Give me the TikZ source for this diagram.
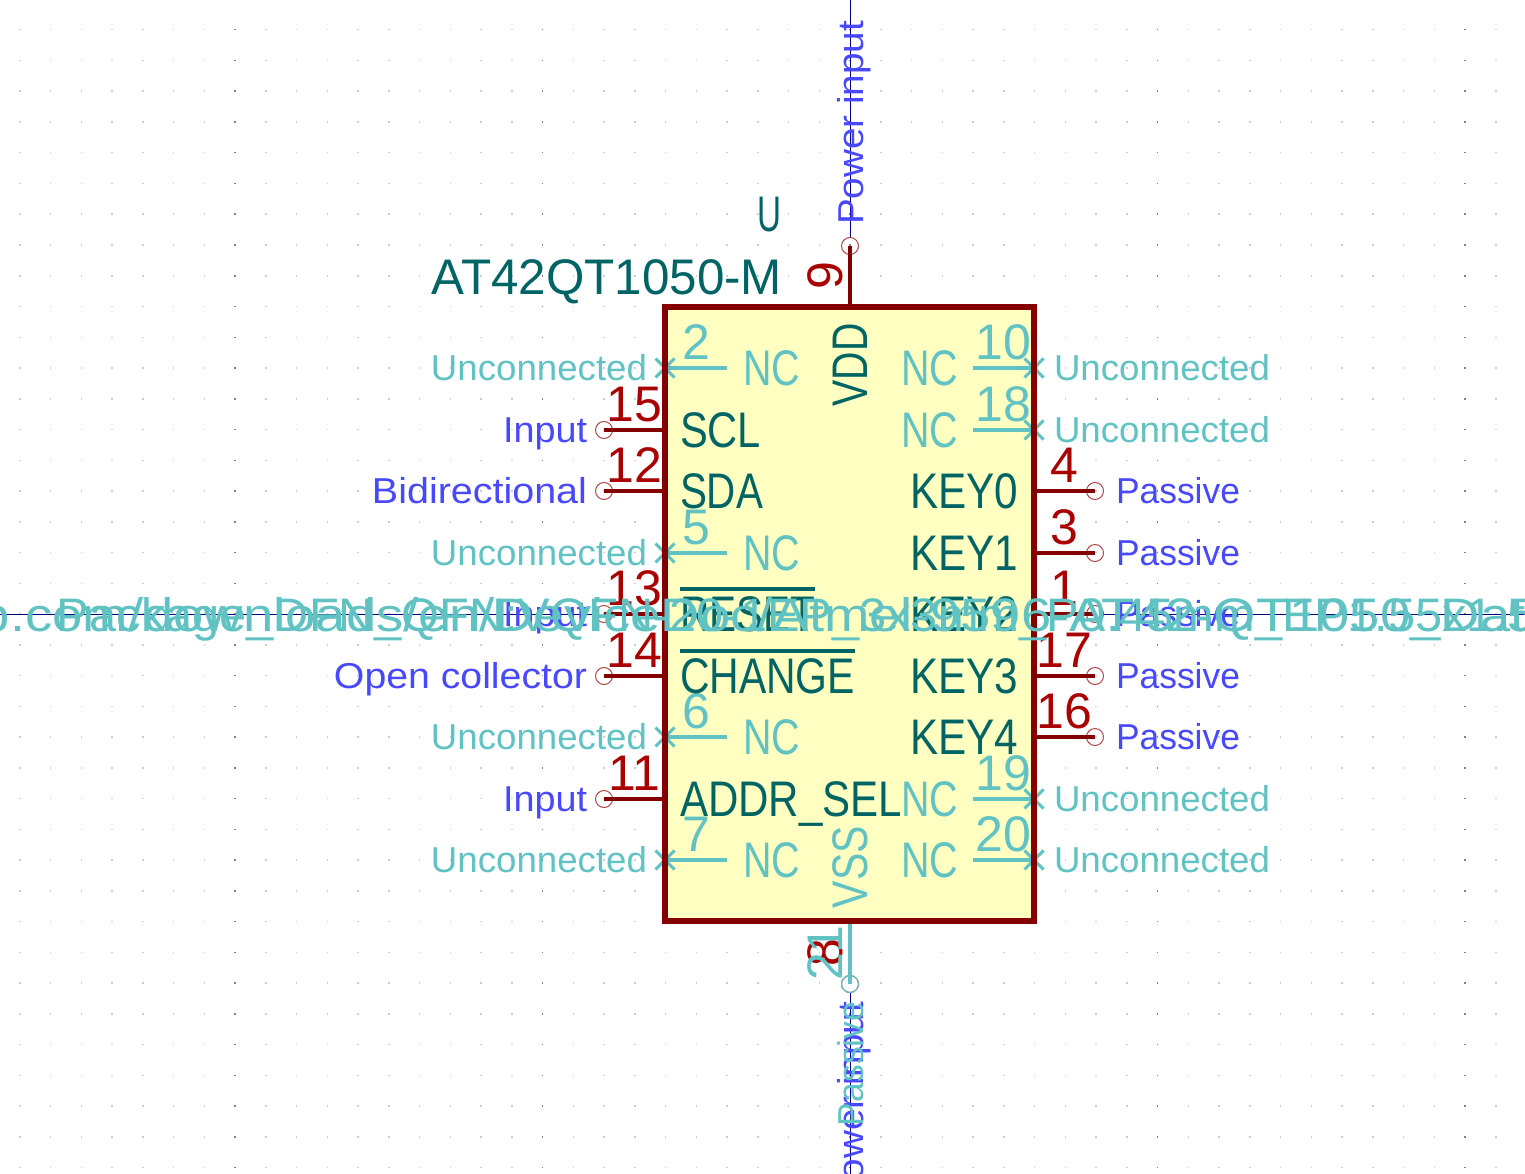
\documentclass[tikz,border=0pt]{standalone}
\usepackage{fontspec}
\usepackage{graphicx}
\setmainfont{Liberation Sans}
\usetikzlibrary{positioning,shapes.misc}
\definecolor{bodyclr}{RGB}{132,0,0}
\definecolor{bodyfill}{RGB}{255,255,194}
\definecolor{numclr}{RGB}{169,0,0}
\definecolor{nameclr}{RGB}{0,100,100}
\definecolor{ncclr}{RGB}{96,194,194}
\definecolor{typeclr}{RGB}{72,72,255}
\definecolor{endclr}{RGB}{176,70,70}
\definecolor{hairclr}{RGB}{0,0,132}
\definecolor{dotclr}{RGB}{205,205,205}
\definecolor{dotdark}{RGB}{130,130,130}
\newcommand{\fitw}[2]{\resizebox{#1pt}{\height}{#2}}
\tikzset{
  %% component body
  bodybox/.style={rectangle,fill=bodyfill,minimum width=369,minimum height=614,
    inner sep=0pt,outer sep=0pt},
  bodyln/.style={draw=bodyclr,line width=6pt,line join=miter},
  %% pin ends
  pend/.style={circle,draw=endclr,line width=1pt,minimum size=17,inner sep=0pt,outer sep=0pt},
  tend/.style={circle,draw=ncclr,line width=1pt,minimum size=17,inner sep=0pt,outer sep=0pt},
  ncx/.style={cross out,draw=ncclr,line width=3pt,minimum size=19,inner sep=0pt,outer sep=0pt},
  %% pin lines
  pinln/.style={color=bodyclr,line width=4pt},
  ncln/.style={color=ncclr,line width=4pt},
  hair/.style={color=hairclr,line width=1pt},
  ovbar/.style={color=nameclr,line width=4pt},
  %% texts
  num/.style={font=\fontsize{50}{50}\selectfont,text=numclr,inner sep=0pt,outer sep=0pt,
    text height=36pt,text depth=0pt},
  ncnum/.style={num,text=ncclr},
  nm/.style={font=\fontsize{50}{50}\selectfont,text=nameclr,inner sep=0pt,outer sep=0pt,
    text height=36pt,text depth=0pt,yshift=1pt},
  ncnm/.style={nm,text=ncclr},
  lbl/.style={font=\fontsize{36}{36}\selectfont,text=typeclr,inner sep=0pt,outer sep=0pt,
    text height=26pt,text depth=0pt,yshift=1pt},
  nclbl/.style={lbl,text=ncclr},
  fld/.style={font=\fontsize{47}{47}\selectfont,text=ncclr,inner sep=0pt,outer sep=0pt,
    text height=34pt,text depth=0pt},
}
\begin{document}
\begin{tikzpicture}[x=1pt,y=-1pt]
  \useasboundingbox (0,0) rectangle (1525,1174);
  \clip (0,0) rectangle (1525,1174);
  \fill[white] (0,0) rectangle (1525,1174);
  %% grid
  \foreach \i in {-27,...,21}{
    \foreach \j in {-19,...,18}{
      \fill[dotclr] ({849.25+\i*30.75},{613.25+\j*30.75}) rectangle ++(1.5,1.5);
    }
  }
  \foreach \i in {-2,...,2}{
    \foreach \j in {-19,...,18}{
      \fill[dotdark] ({849.25+\i*307.5},{613.25+\j*30.75}) rectangle ++(1.5,1.5);
    }
  }

  \node[bodybox] (body) at (849.5,614) {};

  %% pin ends
  \node[pend] (p9)  at (850,246) {};
  \node[pend] (p8)  at (850,984) {};
  \node[tend] (p21) at (850,984) {};
  \node[pend] (p15) at (604,430) {};
  \node[pend] (p12) at (604,491) {};
  \node[pend] (p13) at (604,614) {};
  \node[pend] (p14) at (604,676) {};
  \node[pend] (p11) at (604,799) {};
  \node[pend] (p4)  at (1095,491) {};
  \node[pend] (p3)  at (1095,553) {};
  \node[pend] (p1)  at (1095,614) {};
  \node[pend] (p17) at (1095,676) {};
  \node[pend] (p16) at (1095,737) {};
  \node[ncx] (x2)  at (665,368) {};
  \node[ncx] (x5)  at (665,553) {};
  \node[ncx] (x6)  at (665,737) {};
  \node[ncx] (x7)  at (665,860) {};
  \node[ncx] (x10) at (1034,368) {};
  \node[ncx] (x18) at (1034,430) {};
  \node[ncx] (x19) at (1034,799) {};
  \node[ncx] (x20) at (1034,860) {};
  \coordinate (e2)  at (727,368);
  \coordinate (e5)  at (727,553);
  \coordinate (e6)  at (727,737);
  \coordinate (e7)  at (727,860);
  \coordinate (e10) at (973,368);
  \coordinate (e18) at (973,430);
  \coordinate (e19) at (973,799);
  \coordinate (e20) at (973,860);
  \coordinate (wl) at (0,614);
  \coordinate (wr) at (1525,614);
  \coordinate (wt) at (850,0);
  \coordinate (wb) at (850,1174);

  %% wires
  \draw[hair] (wl)--(p13);
  \draw[hair] (p1)--(wr);
  \draw[hair] (wt)--(p9);
  \draw[hair] (p21)--(wb);

  %% pins
  \draw[pinln] (p9.center)--(p9 |- body.north);
  \draw[pinln] (p8.center)--(p8 |- body.south);
  \draw[ncln]  (p21.center)--(p21 |- body.south);
  \draw[pinln] (p15.center)--(p15 -| body.west) node[midway,num,above=9pt] (n15) {15};
  \draw[pinln] (p12.center)--(p12 -| body.west) node[midway,num,above=9pt] (n12) {12};
  \draw[pinln] (p13.center)--(p13 -| body.west) node[midway,num,above=9pt] (n13) {13};
  \draw[pinln] (p14.center)--(p14 -| body.west) node[midway,num,above=9pt] (n14) {14};
  \draw[pinln] (p11.center)--(p11 -| body.west) node[midway,num,above=9pt] (n11) {11};
  \draw[pinln] (p4.center)--(p4 -| body.east)   node[midway,num,above=9pt] (n4)  {4};
  \draw[pinln] (p3.center)--(p3 -| body.east)   node[midway,num,above=9pt] (n3)  {3};
  \draw[pinln] (p1.center)--(p1 -| body.east)   node[midway,num,above=9pt] (n1)  {1};
  \draw[pinln] (p17.center)--(p17 -| body.east) node[midway,num,above=9pt] (n17) {17};
  \draw[pinln] (p16.center)--(p16 -| body.east) node[midway,num,above=9pt] (n16) {16};
  \draw[ncln] (x2.center)--(e2)   node[midway,ncnum,above=9pt] (n2)  {2};
  \draw[ncln] (x5.center)--(e5)   node[midway,ncnum,above=9pt] (n5)  {5};
  \draw[ncln] (x6.center)--(e6)   node[midway,ncnum,above=9pt] (n6)  {6};
  \draw[ncln] (x7.center)--(e7)   node[midway,ncnum,above=9pt] (n7)  {7};
  \draw[ncln] (x10.center)--(e10) node[midway,ncnum,above=9pt] (n10) {10};
  \draw[ncln] (x18.center)--(e18) node[midway,ncnum,above=9pt] (n18) {18};
  \draw[ncln] (x19.center)--(e19) node[midway,ncnum,above=9pt] (n19) {19};
  \draw[ncln] (x20.center)--(e20) node[midway,ncnum,above=9pt] (n20) {20};

  \draw[bodyln] (body.north west) rectangle (body.south east);

  %% rotated numbers
  \node[num,rotate=90] (n9) at (824,276) {9};
  \node[num,rotate=90] (n8) at (824,953) {8};
  \node[ncnum,rotate=90] (n21) at (824,953) {21};

  %% reference and value
  \node[nm] (refd) at (769,215) {\fitw{24}{U}};
  \node[nm,anchor=east] (val) at (782,277) {\fitw{350}{AT42QT1050-M}};

  %% pin names
  \node[nm,rotate=90] (vdd) at (849,366) {\fitw{83}{VDD}};
  \node[ncnm,rotate=90] (vss) at (849,868) {\fitw{82}{VSS}};
  \node[nm,right=15pt of p15 -| body.west] (s15) {\fitw{81}{SCL}};
  \node[nm,right=15pt of p12 -| body.west] (s12) {\fitw{83}{SDA}};
  \node[nm,right=15pt of p13 -| body.west] (s13) {\fitw{135}{RESET}};
  \node[nm,right=15pt of p14 -| body.west] (s14) {\fitw{175}{CHANGE}};
  \node[nm,right=15pt of p11 -| body.west] (s11) {\fitw{222}{ADDR\_SEL}};
  \node[nm,left=16pt of p4 -| body.east]   (s4)  {\fitw{108}{KEY0}};
  \node[nm,left=16pt of p3 -| body.east]   (s3)  {\fitw{108}{KEY1}};
  \node[nm,left=16pt of p1 -| body.east]   (s1)  {\fitw{108}{KEY2}};
  \node[nm,left=16pt of p17 -| body.east]  (s17) {\fitw{108}{KEY3}};
  \node[nm,left=16pt of p16 -| body.east]  (s16) {\fitw{108}{KEY4}};
  \draw[ovbar] ([yshift=6pt]s13.north west)--([yshift=6pt]s13.north east);
  \draw[ovbar] ([yshift=6pt]s14.north west)--([yshift=6pt]s14.north east);
  \node[ncnm,right=16pt of e2]  (s2)  {\fitw{57}{NC}};
  \node[ncnm,right=16pt of e5]  (s5)  {\fitw{57}{NC}};
  \node[ncnm,right=16pt of e6]  (s6)  {\fitw{57}{NC}};
  \node[ncnm,right=16pt of e7]  (s7)  {\fitw{57}{NC}};
  \node[ncnm,left=15pt of e10]  (s10) {\fitw{57}{NC}};
  \node[ncnm,left=15pt of e18]  (s18) {\fitw{57}{NC}};
  \node[ncnm,left=15pt of e19]  (s19) {\fitw{57}{NC}};
  \node[ncnm,left=15pt of e20]  (s20) {\fitw{57}{NC}};

  %% pin types
  \node[lbl,rotate=90,anchor=west] (t9) at (850,226) {\fitw{204}{Power input}};
  \node[lbl,rotate=90,anchor=east] (t8) at (850,1003) {\fitw{204}{Power input}};
  \node[nclbl,rotate=90,anchor=east] (t21) at (850,1003) {\fitw{124}{Passive}};
  \node[lbl,left=8.5pt of p15]  (t15) {\fitw{84}{Input}};
  \node[lbl,left=8.5pt of p12]  (t12) {\fitw{215}{Bidirectional}};
  \node[lbl,left=8.5pt of p13]  (t13) {\fitw{84}{Input}};
  \node[lbl,left=8.5pt of p14]  (t14) {\fitw{253}{Open collector}};
  \node[lbl,left=8.5pt of p11]  (t11) {\fitw{84}{Input}};
  \node[lbl,right=12.5pt of p4]  (t4)  {\fitw{124}{Passive}};
  \node[lbl,right=12.5pt of p3]  (t3)  {\fitw{124}{Passive}};
  \node[lbl,right=12.5pt of p1]  (t1)  {\fitw{124}{Passive}};
  \node[lbl,right=12.5pt of p17] (t17) {\fitw{124}{Passive}};
  \node[lbl,right=12.5pt of p16] (t16) {\fitw{124}{Passive}};
  \node[nclbl,left=8.5pt of x2]  (t2)  {\fitw{216}{Unconnected}};
  \node[nclbl,left=8.5pt of x5]  (t5)  {\fitw{216}{Unconnected}};
  \node[nclbl,left=8.5pt of x6]  (t6)  {\fitw{216}{Unconnected}};
  \node[nclbl,left=8.5pt of x7]  (t7)  {\fitw{216}{Unconnected}};
  \node[nclbl,right=10.5pt of x10] (t10) {\fitw{216}{Unconnected}};
  \node[nclbl,right=10.5pt of x18] (t18) {\fitw{216}{Unconnected}};
  \node[nclbl,right=10.5pt of x19] (t19) {\fitw{216}{Unconnected}};
  \node[nclbl,right=10.5pt of x20] (t20) {\fitw{216}{Unconnected}};

  %% footprint and datasheet, on top
  \node[fld] (fp) at (850,614) {\fitw{1586}{Package\_DFN\_QFN:VQFN-20-1EP\_3x3mm\_P0.45mm\_EP1.55x1.55mm}};
  \node[fld,anchor=west] (ds) at (-20,614) {\fitw{1800}{p.com/downloads/en/DeviceDoc/Atmel-9596-AT42-QT1050\_Datasheet.pdf}};
\end{tikzpicture}
\end{document}
